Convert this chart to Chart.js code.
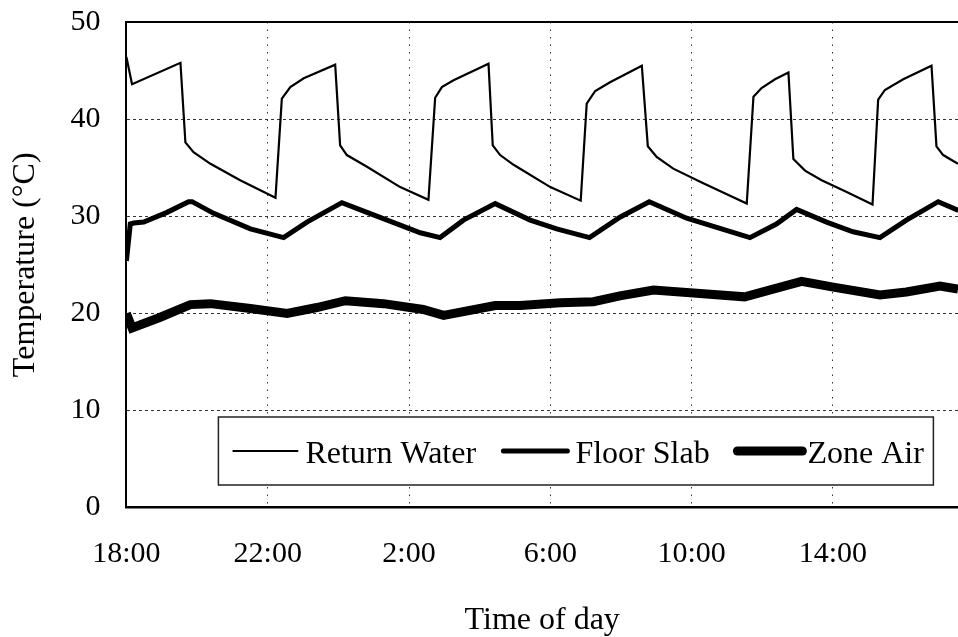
<!DOCTYPE html>
<html><head><meta charset="utf-8">
<script src="https://cdn.jsdelivr.net/npm/chart.js@4.4.1/dist/chart.umd.min.js"></script>
<style>html,body{margin:0;padding:0;background:#fff;overflow:hidden}#wrap{width:958px;height:637px;position:relative}</style>
</head><body><div id="wrap"><canvas id="c"></canvas></div>
<script>
// Hours elapsed since 18:00
const hoursReturnWater = [0, 0.16, 1.53, 1.67, 1.9, 2.38, 3.22, 4.22, 4.4, 4.64, 5.02, 5.91, 6.05, 6.24, 6.81, 7.75, 8.55, 8.74, 8.93, 9.26, 10.25, 10.37, 10.58, 10.96, 12.0, 12.86, 13.03, 13.27, 13.69, 14.59, 14.76, 15.01, 15.48, 16.33, 17.56, 17.75, 17.98, 18.36, 18.74, 18.88, 19.21, 19.68, 20.39, 21.12, 21.28, 21.47, 21.99, 22.79, 22.93, 23.12, 23.54];
const tempReturnWater  = [46.4, 43.6, 45.8, 37.6, 36.6, 35.4, 33.7, 31.9, 42.1, 43.3, 44.2, 45.6, 37.3, 36.3, 35.1, 33.0, 31.7, 42.2, 43.3, 44.0, 45.7, 37.3, 36.3, 35.3, 33.0, 31.6, 41.6, 42.9, 43.8, 45.5, 37.2, 36.1, 34.9, 33.4, 31.3, 42.3, 43.2, 44.1, 44.8, 35.9, 34.7, 33.7, 32.5, 31.2, 42.0, 43.0, 44.1, 45.5, 37.2, 36.3, 35.4];

const hoursFloorSlab = [0, 0.11, 0.21, 0.49, 1.15, 1.76, 1.86, 2.47, 3.51, 4.45, 5.11, 6.1, 6.81, 8.32, 8.88, 9.54, 10.44, 11.43, 12.18, 13.11, 13.97, 14.8, 15.86, 17.65, 18.4, 18.97, 19.82, 20.57, 21.33, 22.08, 22.98, 23.55];
const tempFloorSlab  = [25.4, 29.2, 29.3, 29.4, 30.4, 31.5, 31.5, 30.3, 28.7, 27.8, 29.4, 31.4, 30.4, 28.3, 27.8, 29.6, 31.3, 29.6, 28.7, 27.8, 29.9, 31.5, 29.8, 27.8, 29.2, 30.7, 29.4, 28.4, 27.8, 29.6, 31.5, 30.6];

const hoursZoneAir = [0, 0.16, 0.96, 1.81, 2.38, 3.51, 4.55, 5.39, 6.2, 7.28, 8.4, 8.98, 10.44, 11.15, 12.28, 13.22, 13.97, 14.92, 16.05, 17.5, 19.11, 20.01, 21.33, 22.08, 23.03, 23.54];
const tempZoneAir  = [20.0, 18.5, 19.6, 20.9, 21.0, 20.5, 20.0, 20.6, 21.3, 21.0, 20.4, 19.8, 20.8, 20.8, 21.1, 21.2, 21.8, 22.4, 22.1, 21.7, 23.3, 22.7, 21.9, 22.2, 22.8, 22.5];

const seriesLabels = ['Return Water', 'Floor Slab', 'Zone Air'];
const xTicks = [0, 4, 8, 12, 16, 20];
const startHour = 18;
const yTicks = [0, 10, 20, 30, 40, 50];

function pairs(xs, ys) { return xs.map((x, i) => ({x: x, y: ys[i]})); }

Chart.defaults.color = '#000';
Chart.defaults.font.family = '"Liberation Serif", "Times New Roman", serif';

const legendBox = {
  id: 'legendBox',
  afterDatasetsDraw(chart) {
    const {ctx, chartArea} = chart;
    const L = chartArea.left, T = chartArea.top;
    const bx0 = L + 92, by0 = T + 395, bx1 = L + 807, by1 = T + 463;
    ctx.save();
    ctx.fillStyle = '#fff';
    ctx.fillRect(bx0, by0, bx1 - bx0, by1 - by0);
    ctx.strokeStyle = '#222';
    ctx.lineWidth = 1.5;
    ctx.strokeRect(bx0, by0, bx1 - bx0, by1 - by0);
    const slots = [[107, 171, 179], [377, 441, 449], [611, 676, 681]];
    ctx.font = '32px "Liberation Serif", serif';
    ctx.textBaseline = 'alphabetic';
    ctx.textAlign = 'left';
    chart.data.datasets.forEach((ds, i) => {
      const s = slots[i];
      ctx.strokeStyle = ds.borderColor;
      ctx.lineWidth = ds.borderWidth;
      ctx.lineCap = 'round';
      ctx.beginPath();
      ctx.moveTo(L + s[0], T + 429);
      ctx.lineTo(L + s[1], T + 429);
      ctx.stroke();
      ctx.fillStyle = '#000';
      ctx.fillText(ds.label, L + s[2], T + 441);
    });
    ctx.restore();
  }
};

const noEdgePadding = (s) => { s.paddingTop = 0; s.paddingBottom = 0; s.paddingLeft = 0; s.paddingRight = 0; };

new Chart(document.getElementById('c'), {
  type: 'line',
  data: {
    datasets: [
      {label: seriesLabels[0], data: pairs(hoursReturnWater, tempReturnWater), borderColor: '#000', borderWidth: 2.2, pointRadius: 0, tension: 0, fill: false},
      {label: seriesLabels[1], data: pairs(hoursFloorSlab, tempFloorSlab), borderColor: '#000', borderWidth: 5, pointRadius: 0, tension: 0, fill: false},
      {label: seriesLabels[2], data: pairs(hoursZoneAir, tempZoneAir), borderColor: '#000', borderWidth: 9, pointRadius: 0, tension: 0, fill: false}
    ]
  },
  options: {
    responsive: true,
    maintainAspectRatio: false,
    animation: false,
    layout: {padding: {left: 6, top: 22, right: 0, bottom: -3}},
    plugins: {legend: {display: false}, tooltip: {enabled: false}},
    scales: {
      x: {
        type: 'linear',
        min: 0, max: 23.54,
        afterBuildTicks: (scale) => { scale.ticks = xTicks.map(v => ({value: v})); },
        afterFit: noEdgePadding,
        ticks: {
          autoSkip: false,
          font: {size: 30},
          padding: 29,
          maxRotation: 0,
          callback: (v) => ((startHour + v) % 24) + ':00'
        },
        grid: {color: '#333', lineWidth: 1, drawTicks: false},
        border: {display: true, color: '#000', width: 2.5, dash: [1.5, 6]},
        title: {display: true, text: 'Time of day', font: {size: 32}, padding: {top: 0, bottom: 0}}
      },
      y: {
        min: 0, max: 50,
        afterBuildTicks: (scale) => { scale.ticks = yTicks.map(v => ({value: v})); },
        afterFit: noEdgePadding,
        ticks: {font: {size: 30}, padding: 26},
        grid: {
          color: (c) => (c.tick && c.tick.value === 50) ? '#000' : '#333',
          lineWidth: (c) => (c.tick && c.tick.value === 50) ? 2 : 1,
          drawTicks: false
        },
        border: {display: true, color: '#000', width: 2, dash: (c) => (c.tick && c.tick.value === 50) ? [] : [3, 3]},
        title: {display: true, text: 'Temperature (°C)', font: {size: 32}, padding: {top: 0, bottom: 0}}
      }
    }
  },
  plugins: [legendBox]
});
</script></body></html>
